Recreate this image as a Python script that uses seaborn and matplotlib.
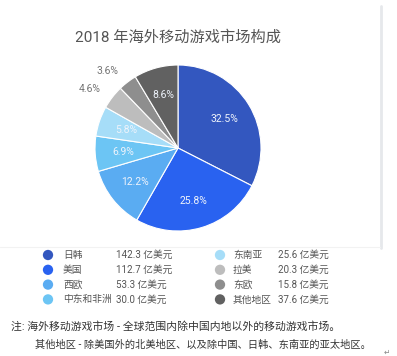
import numpy as np
import pandas as pd
import matplotlib.pyplot as plt
import seaborn as sns
from matplotlib.lines import Line2D

# market data (亿美元)
regions = ["日韩", "美国", "西欧", "中东和非洲", "东南亚", "拉美", "东欧", "其他地区"]
revenue = [142.3, 112.7, 53.3, 30.0, 25.6, 20.3, 15.8, 37.6]
pct_labels = ["32.5%", "25.8%", "12.2%", "6.9%", "5.8%", "4.6%", "3.6%", "8.6%"]
colors = ["#3357BF", "#2962F0", "#5AACF2", "#6CC5F4", "#A6DDF8", "#BDBDBD", "#8E8E8E", "#616161"]

sns.set_theme(style="white")
plt.rcParams['font.family'] = ['Roboto', 'Noto Sans CJK SC', 'DejaVu Sans']

W, H = 397, 356
fig = plt.figure(figsize=(W / 100, H / 100), dpi=100)
fig.patch.set_facecolor("white")

# pie
ax = fig.add_axes([95 / W, 1 - 231 / H, 166 / W, 166 / H])
wedges, _ = ax.pie(revenue, colors=colors, startangle=90, counterclock=False,
                   wedgeprops=dict(edgecolor="white", linewidth=0.8), radius=1.0)
small = {"4.6%", "3.6%"}
for w, lab in zip(wedges, pct_labels):
    ang = np.deg2rad((w.theta1 + w.theta2) / 2)
    if lab in small:
        r = 1.17
        ax.text(r * np.cos(ang), r * np.sin(ang), lab, ha="right", va="center",
                fontsize=7.5, color="#757575")
    else:
        r = 0.66
        ax.text(r * np.cos(ang), r * np.sin(ang), lab, ha="center", va="center",
                fontsize=7.5, color="#EEF3FB")
ax.set_xlim(-1, 1)
ax.set_ylim(-1, 1)
ax.set_aspect("equal")
ax.axis("off")

fig.text(178 / W, 1 - 37 / H, "2018 年海外移动游戏市场构成", ha="center", va="center",
         fontsize=11, color="#555555")

# legend
lg = fig.add_axes([0, 0, 1, 1])
lg.set_xlim(0, W)
lg.set_ylim(H, 0)
lg.axis("off")
leg = pd.DataFrame({"region": regions, "revenue": revenue})
leg["col"] = np.arange(len(regions)) // 4
leg["row"] = np.arange(len(regions)) % 4
leg["mx"] = np.where(leg["col"] == 0, 48, 220)
leg["my"] = 255 + leg["row"] * 14.8
sns.scatterplot(data=leg, x="mx", y="my", hue="region", palette=colors, s=55,
                edgecolor="none", legend=False, ax=lg)
lg.set_xlim(0, W)
lg.set_ylim(H, 0)
for _, r in leg.iterrows():
    nx = 63 if r["col"] == 0 else 233
    vx = 116 if r["col"] == 0 else 278
    lg.text(nx, r["my"], r["region"], ha="left", va="center", fontsize=7, color="#555555")
    lg.text(vx, r["my"], f"{r['revenue']:.1f} 亿美元", ha="left", va="center",
            fontsize=7, color="#555555")

# frame lines
fig.add_artist(Line2D([381 / W, 381 / W], [1 - 6 / H, 1 - 248 / H], color="#E6E8EB", linewidth=2))
fig.add_artist(Line2D([0, 380 / W], [1 - 247 / H, 1 - 247 / H], color="#F2F2F2", linewidth=0.8))

# notes
fig.text(11 / W, 1 - 327 / H, "注: 海外移动游戏市场 - 全球范围内除中国内地以外的移动游戏市场。",
         ha="left", va="center", fontsize=7.8, color="#333333")
fig.text(35 / W, 1 - 345 / H, "其他地区 - 除美国外的北美地区、以及除中国、日韩、东南亚的亚太地区。",
         ha="left", va="center", fontsize=7.35, color="#333333")
fig.text(387 / W, 1 - 352 / H, "↵", ha="center", va="center", fontsize=5.5, color="#888888",
         family=["DejaVu Sans"])

fig.savefig("out.png", dpi=100)
